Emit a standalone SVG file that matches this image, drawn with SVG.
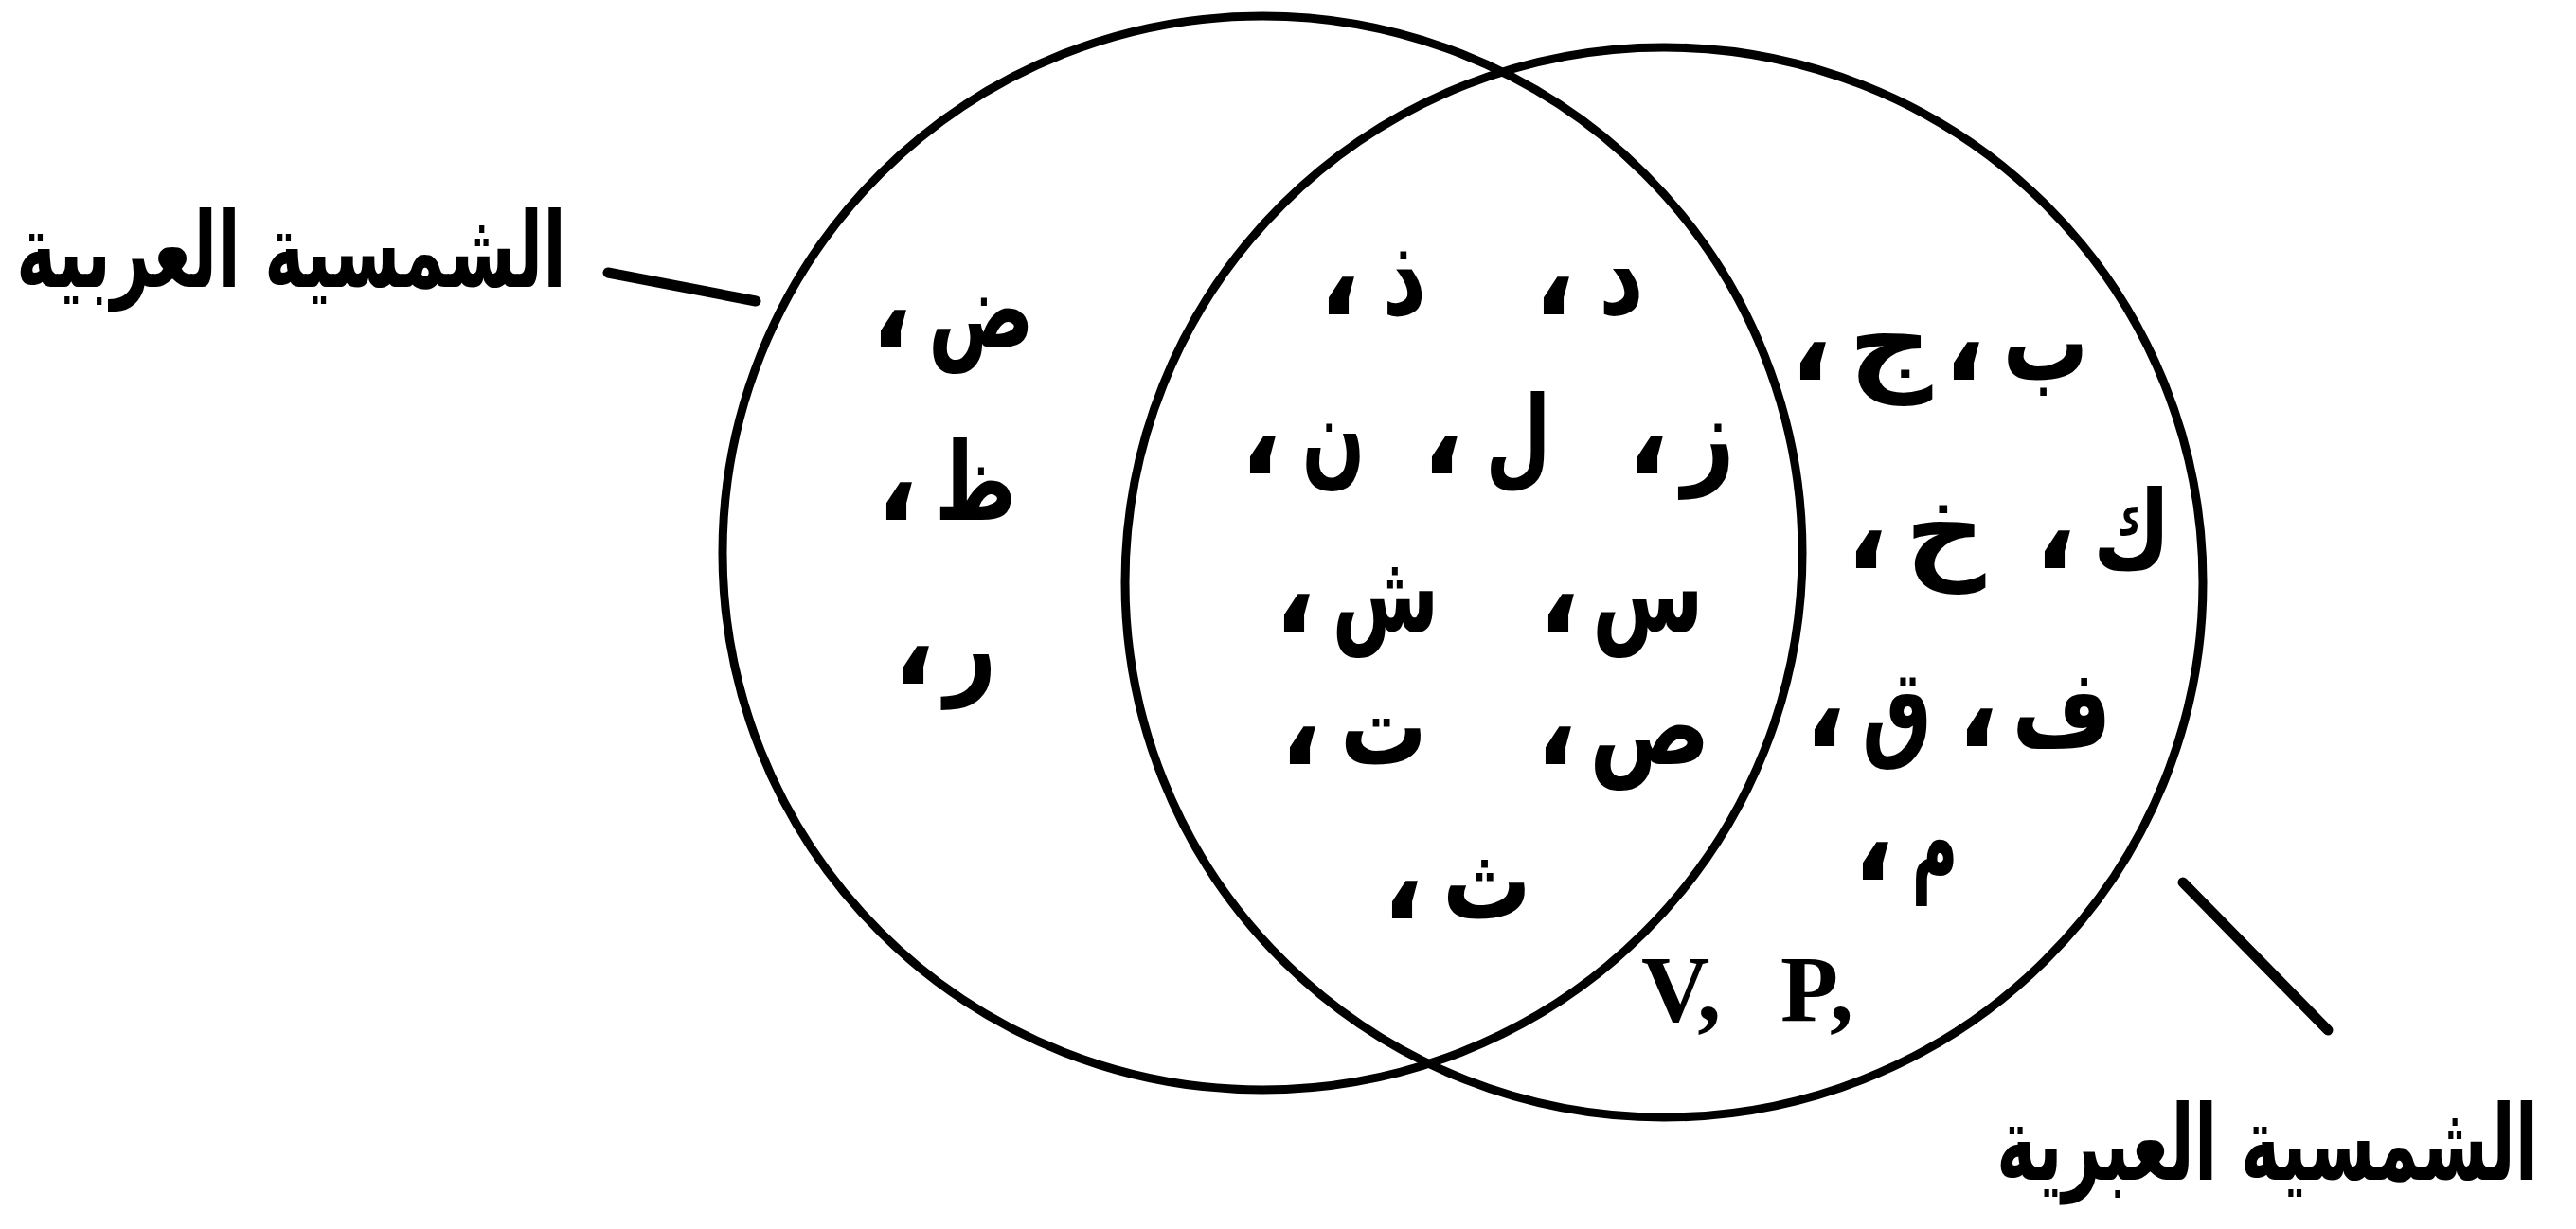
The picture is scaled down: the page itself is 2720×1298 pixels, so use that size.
<svg xmlns="http://www.w3.org/2000/svg" width="2720" height="1298" viewBox="0 0 2720 1298">
<style>
.bg{fill:#ffffff}
.set{fill:none;stroke:#000;stroke-width:9}
.lead{fill:none;stroke:#000;stroke-width:11;stroke-linecap:round}
.ar{font-family:"DejaVu Sans",sans-serif;font-weight:bold;font-size:115px;fill:#000;text-anchor:middle}
.cm{font-family:"DejaVu Sans",sans-serif;font-weight:bold;font-size:120px;fill:#000;text-anchor:middle}
.lab{font-family:"DejaVu Sans",sans-serif;font-weight:bold;font-size:110px;fill:#000}
.lat{font-family:"Liberation Serif",serif;font-weight:bold;font-size:100px;fill:#000}
</style>
<rect class="bg" x="0" y="0" width="2720" height="1298"/>
<g id="set-arabic">
<ellipse class="set" cx="1333" cy="584" rx="570" ry="567"/>
</g>
<g id="set-hebrew">
<ellipse class="set" cx="1757" cy="615" rx="569" ry="565"/>
</g>
<g id="connectors">
<line class="lead" x1="642" y1="288" x2="798" y2="318"/>
<line class="lead" x1="2305" y1="932" x2="2458" y2="1088"/>
</g>
<g id="label-arabic">
<text class="lab" x="17" y="303" textLength="581" lengthAdjust="spacingAndGlyphs">الشمسية العربية</text>
</g>
<g id="label-hebrew">
<text class="lab" x="2680" y="1246" font-size="104" text-anchor="end" textLength="572" lengthAdjust="spacingAndGlyphs">الشمسية العبرية</text>
</g>
<g id="arabic-only">
<text class="ar" x="1036" y="367" textLength="112" lengthAdjust="spacingAndGlyphs">ض</text><text class="cm" x="941" y="367">،</text>
<text class="ar" x="1030" y="549" textLength="86" lengthAdjust="spacingAndGlyphs">ظ</text><text class="cm" x="947" y="549">،</text>
<text class="ar" x="1025" y="722" textLength="55" lengthAdjust="spacingAndGlyphs">ر</text><text class="cm" x="965" y="722">،</text>
</g>
<g id="shared">
<text class="ar" x="1712" y="332" textLength="48" lengthAdjust="spacingAndGlyphs">د</text><text class="cm" x="1641" y="332">،</text>
<text class="ar" x="1483" y="332" textLength="47" lengthAdjust="spacingAndGlyphs">ذ</text><text class="cm" x="1414" y="332">،</text>
<text class="ar" x="1804" y="500" textLength="56" lengthAdjust="spacingAndGlyphs">ز</text><text class="cm" x="1740" y="500">،</text>
<text class="ar" x="1603" y="500" textLength="69" lengthAdjust="spacingAndGlyphs">ل</text><text class="cm" x="1523" y="500">،</text>
<text class="ar" x="1408" y="500" textLength="67" lengthAdjust="spacingAndGlyphs">ن</text><text class="cm" x="1331" y="500">،</text>
<text class="ar" x="1740" y="667" textLength="118" lengthAdjust="spacingAndGlyphs">س</text><text class="cm" x="1646" y="667">،</text>
<text class="ar" x="1463" y="667" textLength="113" lengthAdjust="spacingAndGlyphs">ش</text><text class="cm" x="1367" y="667">،</text>
<text class="ar" x="1742" y="807" textLength="128" lengthAdjust="spacingAndGlyphs">ص</text><text class="cm" x="1643" y="807">،</text>
<text class="ar" x="1461" y="807" textLength="92" lengthAdjust="spacingAndGlyphs">ت</text><text class="cm" x="1373" y="807">،</text>
<text class="ar" x="1570" y="970" textLength="94" lengthAdjust="spacingAndGlyphs">ث</text><text class="cm" x="1481" y="970">،</text>
</g>
<g id="hebrew-only">
<text class="ar" x="2160" y="401" textLength="91" lengthAdjust="spacingAndGlyphs">ب</text><text class="cm" x="2074" y="401">،</text>
<text class="ar" x="1996" y="401" textLength="89" lengthAdjust="spacingAndGlyphs">ج</text><text class="cm" x="1912" y="401">،</text>
<text class="ar" x="2251" y="600" textLength="82" lengthAdjust="spacingAndGlyphs">ك</text><text class="cm" x="2170" y="600">،</text>
<text class="ar" x="2054" y="600" textLength="85" lengthAdjust="spacingAndGlyphs">خ</text><text class="cm" x="1971" y="600">،</text>
<text class="ar" x="2177" y="788" textLength="105" lengthAdjust="spacingAndGlyphs">ف</text><text class="cm" x="2088" y="788">،</text>
<text class="ar" x="2003" y="788" textLength="74" lengthAdjust="spacingAndGlyphs">ق</text><text class="cm" x="1927" y="788">،</text>
<text class="ar" x="2043" y="929" textLength="49" lengthAdjust="spacingAndGlyphs">م</text><text class="cm" x="1978" y="929">،</text>
<text class="lat" x="1733" y="1078">V,</text>
<text class="lat" x="1880" y="1078">P,</text>
</g>
</svg>
